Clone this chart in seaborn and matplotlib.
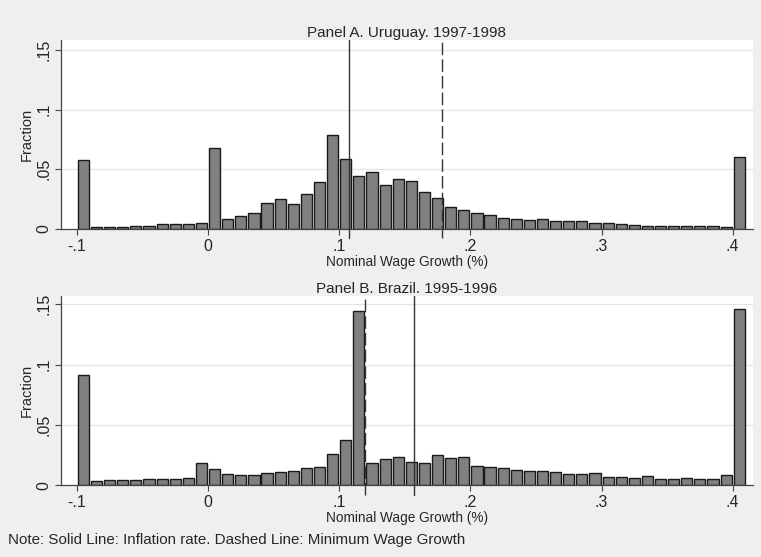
import numpy as np
import pandas as pd
import seaborn as sns
import matplotlib.pyplot as plt

# bin left edges: -.10 ... .40, width .01
bins_left = [round(-0.10 + 0.01 * k, 2) for k in range(51)]

uruguay_frac = [0.058, 0.0015, 0.0015, 0.002, 0.0023, 0.0025, 0.004, 0.004, 0.0045, 0.0053,
                0.068, 0.008, 0.011, 0.0135, 0.0215, 0.025, 0.021, 0.029, 0.039, 0.079,
                0.059, 0.044, 0.0475, 0.037, 0.0415, 0.040, 0.031, 0.0257, 0.018, 0.0157,
                0.0134, 0.0117, 0.0095, 0.0087, 0.0078, 0.0081, 0.007, 0.0067, 0.007, 0.005,
                0.005, 0.0045, 0.0034, 0.0023, 0.0028, 0.0025, 0.0023, 0.0023, 0.0023, 0.0014,
                0.060]

brazil_frac = [0.091, 0.0037, 0.004, 0.0043, 0.0043, 0.0048, 0.0054, 0.0054, 0.0057, 0.0187,
               0.0132, 0.0093, 0.0082, 0.0087, 0.0104, 0.0107, 0.012, 0.0143, 0.0154, 0.026,
               0.0376, 0.1446, 0.0187, 0.022, 0.0237, 0.0196, 0.0187, 0.0246, 0.0229, 0.0237,
               0.0162, 0.0151, 0.014, 0.0126, 0.012, 0.0118, 0.0112, 0.009, 0.0093, 0.0098,
               0.007, 0.0068, 0.0062, 0.0079, 0.0054, 0.0051, 0.0062, 0.0054, 0.0054, 0.0084,
               0.1457]

panels = [
    ("Panel A. Uruguay. 1997-1998", uruguay_frac, 0.1077, 0.178, 0.1584),
    ("Panel B. Brazil. 1995-1996", brazil_frac, 0.157, 0.12, 0.157),
]
xticks = [-0.1, 0, 0.1, 0.2, 0.3, 0.4]
xticklabels = ["-.1", "0", ".1", ".2", ".3", ".4"]
yticks = [0, 0.05, 0.1, 0.15]
yticklabels = ["0", ".05", ".1", ".15"]

sns.set_style("white")
plt.rcParams['font.family'] = ['Liberation Sans', 'DejaVu Sans']

bg = "#efefef"
fig = plt.figure(figsize=(7.61, 5.57), dpi=100, facecolor=bg)
positions = [[0.080, 0.589, 0.909, 0.339], [0.080, 0.129, 0.909, 0.340]]
edges = [round(-0.10 + 0.01 * k, 2) for k in range(52)]

for (title, frac, inflation, minwage, ytop), pos in zip(panels, positions):
    ax = fig.add_axes(pos)
    ax.set_facecolor("white")
    df = pd.DataFrame({"growth": np.array(bins_left) + 0.005, "fraction": frac})
    sns.histplot(data=df, x="growth", weights="fraction", bins=edges, shrink=0.85,
                 color="#808080", edgecolor="#1a1a1a", linewidth=1.0, alpha=1, ax=ax)
    ax.set_xlim(-0.1122, 0.4152)
    ax.set_ylim(0, ytop)
    for y in yticks[1:]:
        ax.axhline(y, color="#e4e4e4", lw=0.9, zorder=0)
    ax.axvline(inflation, color="#333333", lw=1.0, ymin=-0.05, clip_on=False)
    ax.axvline(minwage, color="#333333", lw=1.0, ls=(0, (9, 3)), ymin=-0.05, clip_on=False)
    ax.set_xticks(xticks)
    ax.set_xticklabels(xticklabels)
    ax.set_yticks(yticks)
    ax.set_yticklabels(yticklabels, rotation=90, va="center")
    ax.tick_params(axis="both", direction="out", length=4, width=0.8, color="#444444",
                   labelsize=11.5, pad=3, bottom=True, left=True)
    for side in ["top", "right"]:
        ax.spines[side].set_visible(False)
    for side in ["left", "bottom"]:
        ax.spines[side].set_color("#444444")
        ax.spines[side].set_linewidth(0.9)
    ax.set_xlabel("Nominal Wage Growth (%)", fontsize=9.8, labelpad=1)
    ax.set_ylabel("Fraction", fontsize=10.5, labelpad=2)
    ax.set_title(title, fontsize=11, pad=2)

fig.text(0.011, 0.030, "Note: Solid Line: Inflation rate. Dashed Line: Minimum Wage Growth",
         fontsize=10.9, ha="left", va="center")

fig.savefig("out.png", dpi=100, facecolor=bg)
